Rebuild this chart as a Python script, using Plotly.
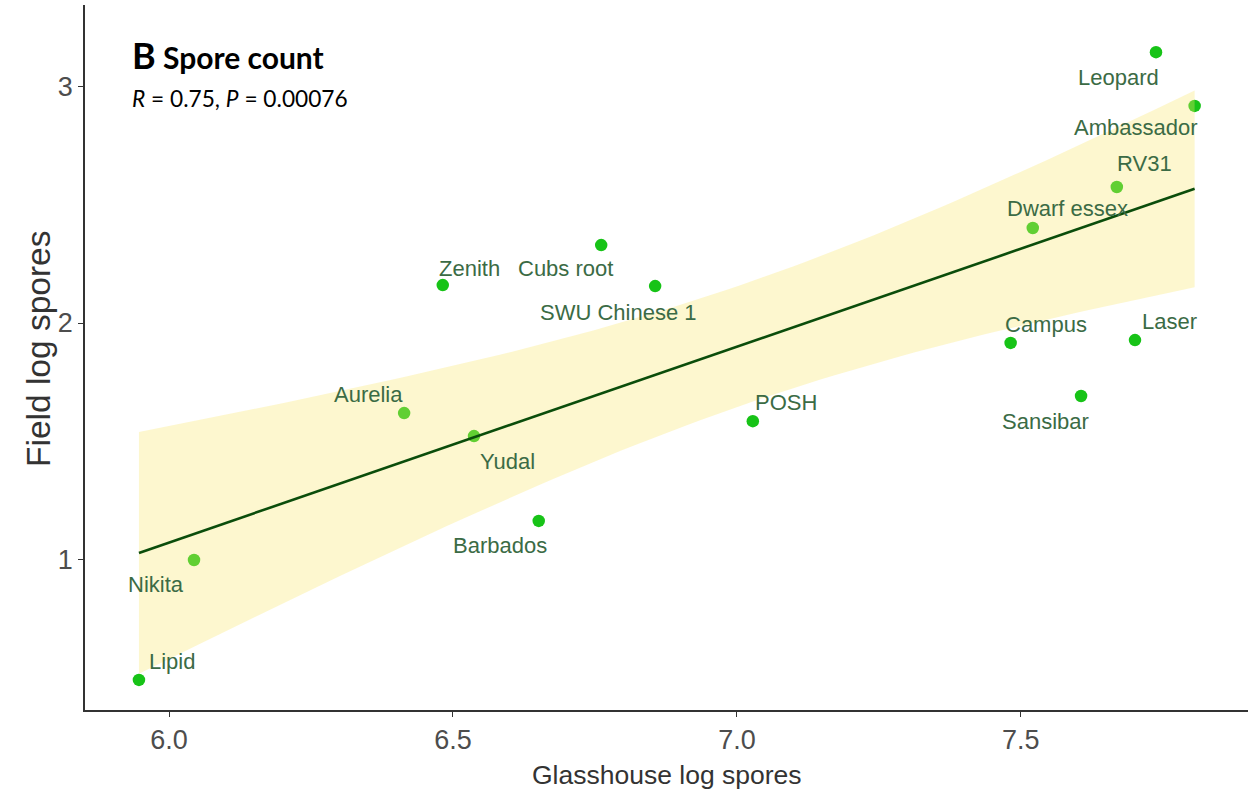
import numpy as np
import plotly.graph_objects as go

# ---- data ----
cultivars = ["Lipid", "Nikita", "Aurelia", "Yudal", "Zenith", "Barbados", "Cubs root",
             "SWU Chinese 1", "POSH", "Campus", "Dwarf essex", "RV31", "Leopard",
             "Ambassador", "Sansibar", "Laser"]
glasshouse = [5.947, 6.044, 6.414, 6.537, 6.482, 6.651, 6.761,
              6.856, 7.028, 7.482, 7.521, 7.669, 7.738,
              7.806, 7.606, 7.701]
field = [0.494, 1.000, 1.620, 1.523, 2.160, 1.165, 2.329,
         2.156, 1.586, 1.916, 2.401, 2.574, 3.143,
         2.916, 1.692, 1.928]
# label offsets in pixels (dx right, dy down), mimicking the repelled labels
label_dx = [33, -38, -36, 34, 27, -39, -36, -37, 33, 35, 35, 28, -38, -59, -36, 35]
label_dy = [-18, 25, -19, 25, -17, 25, 23, 26, -19, -18, -19, -24, 25, 22, 25, -19]

x_ticks = [6.0, 6.5, 7.0, 7.5]
x_ticklabels = ["6.0", "6.5", "7.0", "7.5"]
y_ticks = [1, 2, 3]
y_ticklabels = ["1", "2", "3"]

# ---- linear fit with 95% confidence band ----
x = np.array(glasshouse)
y = np.array(field)
n = len(x)
b1, b0 = np.polyfit(x, y, 1)
resid = y - (b0 + b1 * x)
s = np.sqrt(np.sum(resid ** 2) / (n - 2))
t_crit = 2.1448  # t(0.975, df=14)
xg = np.linspace(x.min(), x.max(), 80)
yg = b0 + b1 * xg
se = s * np.sqrt(1 / n + (xg - x.mean()) ** 2 / np.sum((x - x.mean()) ** 2))
upper = yg + t_crit * se
lower = yg - t_crit * se

SANS = "Liberation Sans, Arial"

fig = go.Figure()
fig.add_trace(go.Scatter(x=glasshouse, y=field, mode="markers",
                         marker=dict(color="#17c317", size=12.5, line=dict(width=0)),
                         hoverinfo="text", text=cultivars, showlegend=False))
fig.add_trace(go.Scatter(x=np.concatenate([xg, xg[::-1]]),
                         y=np.concatenate([upper, lower[::-1]]),
                         fill="toself", fillcolor="rgba(250,232,110,0.33)",
                         line=dict(width=0), mode="lines", hoverinfo="skip",
                         showlegend=False))
fig.add_trace(go.Scatter(x=xg, y=yg, mode="lines",
                         line=dict(color="#0b4d0b", width=2.6),
                         hoverinfo="skip", showlegend=False))

for name, gx, fy, dx, dy in zip(cultivars, glasshouse, field, label_dx, label_dy):
    fig.add_annotation(x=gx, y=fy, text=name, showarrow=False,
                       xshift=dx, yshift=-dy,
                       font=dict(family=SANS, size=22, color="#3b6b45"))

fig.add_annotation(xref="paper", yref="paper", x=(130 - 85) / 1163, y=(710 - 55) / 705,
                   xanchor="left", yanchor="middle", showarrow=False,
                   text="<b><span style='font-size:36px'>B</span> Spore count</b>",
                   font=dict(family="Lato", size=30, color="black"))
fig.add_annotation(xref="paper", yref="paper", x=(130 - 85) / 1163, y=(710 - 99) / 705,
                   xanchor="left", yanchor="middle", showarrow=False,
                   text="<i>R</i> = 0.75, <i>P</i> = 0.00076",
                   font=dict(family="Lato", size=22.7, color="black"))

# axis titles
fig.add_annotation(xref="paper", yref="paper", x=(667 - 85) / 1163, y=(710 - 775) / 705,
                   xanchor="center", yanchor="middle", showarrow=False,
                   text="Glasshouse log spores",
                   font=dict(family=SANS, size=26.5, color="#333333"))
fig.add_annotation(xref="paper", yref="paper", x=(38 - 85) / 1163, y=(710 - 349) / 705,
                   xanchor="center", yanchor="middle", showarrow=False, textangle=-90,
                   text="Field log spores",
                   font=dict(family=SANS, size=33.5, color="#333333"))

axis_common = dict(showgrid=False, zeroline=False, showline=True, linecolor="#333333",
                   linewidth=1.6, ticks="outside", ticklen=5, tickwidth=1.3,
                   tickcolor="#333333", mirror=False, automargin=False,
                   tickfont=dict(family=SANS, size=27, color="#4d4d4d"))

fig.update_xaxes(range=[5.852, 7.900], tickvals=x_ticks, ticktext=x_ticklabels, **axis_common)
fig.update_yaxes(range=[0.367, 3.342], tickvals=y_ticks, ticktext=y_ticklabels, **axis_common)

fig.update_layout(width=1258, height=795, plot_bgcolor="white", paper_bgcolor="white",
                  margin=dict(l=85, r=10, t=5, b=85), showlegend=False)

fig.write_html("out.html", config={"displayModeBar": False},
               post_script="document.body.style.margin='0px';document.body.style.overflow='hidden';")
